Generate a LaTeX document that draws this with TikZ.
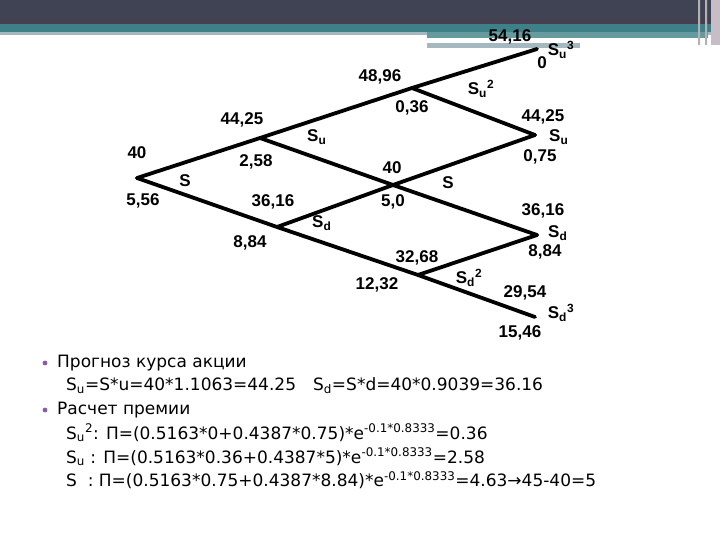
\documentclass[tikz,border=0pt]{standalone}
\usepackage{fontspec}
\setmainfont{DejaVu Sans}
\newfontfamily\treefont{Liberation Sans}
\usepackage{tikz}

\definecolor{barDark}{HTML}{3F4354}
\definecolor{barPurple}{HTML}{45404F}
\definecolor{barTeal}{HTML}{3E8087}
\definecolor{barLight}{HTML}{A6B8BF}
\definecolor{bulletPurple}{HTML}{8A5CA8}

\newcommand{\Sx}[2]{S\textsubscript{#1}\textsuperscript{#2}}

\tikzset{
  val/.style={font=\treefont\bfseries\fontsize{17}{17}\selectfont, inner sep=0pt},
  branch/.style={line width=3.8pt, line cap=round, line join=round},
  txt/.style={font=\fontsize{17}{17}\selectfont, anchor=west, inner sep=0pt},
}

\begin{document}
\begin{tikzpicture}[x=1pt,y=-1pt]
\useasboundingbox (0,0) rectangle (720,540);
% header bar
\fill[barDark] (0,0) rectangle (720,18);
\fill[barPurple] (0,18) rectangle (720,24);
\fill[barTeal] (0,24) rectangle (720,32);
\fill[barLight] (0,32) rectangle (720,35);
\fill[barTeal!80!white] (427,32) rectangle (708,38);
\fill[white] (427,38) rectangle (667,43);
\fill[barLight] (427,43) rectangle (580,48);
\fill[gray!60] (698,0) rectangle (700,45) (705,0) rectangle (707,45);
\fill[violet!15!gray!45] (711,0) rectangle (720,45);

% tree points
\coordinate (root) at (137,178);
\coordinate (su)   at (260,138);
\coordinate (su2)  at (412,88);
\coordinate (su3)  at (537,49);
\coordinate (mid)  at (393,185);
\coordinate (suR)  at (535,135);
\coordinate (sd)   at (277,227);
\coordinate (sdR)  at (537,235);
\coordinate (sd2)  at (418,275);
\coordinate (sd3)  at (535,317);

\draw[branch] (root) -- (su) -- (su2) -- (su3);
\draw[branch] (root) -- (sd) -- (sd2) -- (sd3);
\draw[branch] (su) -- (mid) -- (sdR);
\draw[branch] (sd) -- (mid) -- (suR);
\draw[branch] (su2) -- (suR);
\draw[branch] (sd2) -- (sdR);

% values
\node[val] (v40) at (137,153) {40};
\node[val] (p556) at (143,201) {5,56};
\node[val] (nS) at (185,181) {S};
\node[val] (v4425) at (242,120) {44,25};
\node[val] (nSu) at (317,137) {\Sx{u}{}};
\node[val] (p258) at (256,162) {2,58};
\node[val] (v3616) at (273,202) {36,16};
\node[val] (v4896) at (380,77) {48,96};
\node[val] (p036) at (412,108) {0,36};
\node[val] (nSu2) at (481,89) {\Sx{u}{2}};
\node[val] (v5416) at (510,37) {54,16};
\node[val] (nSu3) at (561,50) {\Sx{u}{3}};
\node[val] (p0) at (542,63) {0};
\node[val] (v4425r) at (543,117) {44,25};
\node[val] (nSuR) at (559,137) {\Sx{u}{}};
\node[val] (p075) at (540,157) {0,75};
\node[val] (v40m) at (392,168) {40};
\node[val] (p50) at (393,202) {5,0};
\node[val] (nSm) at (448,183) {S};
\node[val] (v3616r) at (543,211) {36,16};
\node[val] (nSdR) at (558,233) {\Sx{d}{}};
\node[val] (p884r) at (545,252) {8,84};
\node[val] (nSd) at (322,223) {\Sx{d}{}};
\node[val] (p884) at (250,243) {8,84};
\node[val] (v3268) at (417,258) {32,68};
\node[val] (p1232) at (377,285) {12,32};
\node[val] (nSd2) at (469,278) {\Sx{d}{2}};
\node[val] (v2954) at (525,293) {29,54};
\node[val] (nSd3) at (561,313) {\Sx{d}{3}};
\node[val] (p1546) at (520,333) {15,46};

% text
\fill[bulletPurple] (45,363) circle (2.4);
\fill[bulletPurple] (45,410) circle (2.4);
\node[txt] (t1) at (57,363) {Прогноз курса акции};
\node[txt] (t2) at (66,386) {S\textsubscript{u}=S*u=40*1.1063=44.25\quad S\textsubscript{d}=S*d=40*0.9039=36.16};
\node[txt] (t3) at (57,410) {Расчет премии};
\node[txt] (t4) at (66,433) {S\textsubscript{u}\textsuperscript{2}: П=(0.5163*0+0.4387*0.75)*e\textsuperscript{-0.1*0.8333}=0.36};
\node[txt] (t5) at (66,457) {S\textsubscript{u} : П=(0.5163*0.36+0.4387*5)*e\textsuperscript{-0.1*0.8333}=2.58};
\node[txt] (t6) at (66,480) {S\ \ : П=(0.5163*0.75+0.4387*8.84)*e\textsuperscript{-0.1*0.8333}=4.63→45-40=5};
\end{tikzpicture}
\end{document}
